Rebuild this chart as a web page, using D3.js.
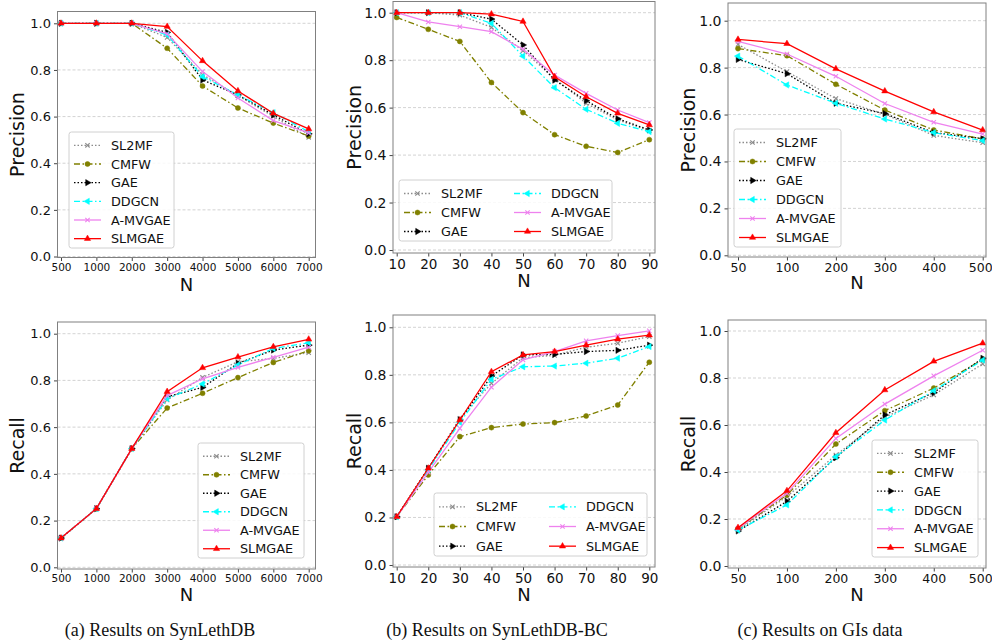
<!DOCTYPE html>
<html>
<head>
<meta charset="utf-8">
<script src="https://cdn.jsdelivr.net/npm/d3@7"></script>
<style>
  body { margin: 0; background: #fff; }
</style>
</head>
<body>
<div id="chart"></div>
<script>
// methods, in drawing / legend order
const methods = ['SL2MF', 'CMFW', 'GAE', 'DDGCN', 'A-MVGAE', 'SLMGAE'];

// x categories (top-N)
const nSynLethDB = [500, 1000, 2000, 3000, 4000, 5000, 6000, 7000];
const nSynLethDBBC = [10, 20, 30, 40, 50, 60, 70, 80, 90];
const nGIs = [50, 100, 200, 300, 400, 500];

// precision, one row per method (same order as methods)
const precSynLethDB = [
  [1, 1, 1, 0.939, 0.780, 0.690, 0.600, 0.511],
  [1, 1, 1, 0.893, 0.731, 0.637, 0.572, 0.517],
  [1, 1, 1, 0.961, 0.757, 0.693, 0.607, 0.526],
  [1, 1, 1, 0.950, 0.771, 0.693, 0.617, 0.535],
  [1, 1, 1, 0.955, 0.793, 0.680, 0.583, 0.530],
  [1, 1, 1, 0.986, 0.839, 0.710, 0.614, 0.547],
];
const precSynLethDBBC = [
  [1, 1, 0.990, 0.938, 0.840, 0.723, 0.618, 0.548, 0.503],
  [0.980, 0.930, 0.879, 0.706, 0.579, 0.486, 0.437, 0.411, 0.465],
  [1, 1, 1, 0.973, 0.864, 0.716, 0.629, 0.553, 0.506],
  [1, 1, 1, 0.955, 0.817, 0.684, 0.593, 0.534, 0.499],
  [1, 0.961, 0.941, 0.920, 0.846, 0.737, 0.660, 0.590, 0.537],
  [1, 1, 1, 0.994, 0.963, 0.730, 0.646, 0.576, 0.527],
];
const precGIs = [
  [0.899, 0.783, 0.668, 0.601, 0.511, 0.480],
  [0.881, 0.851, 0.729, 0.619, 0.534, 0.496],
  [0.835, 0.774, 0.648, 0.604, 0.523, 0.497],
  [0.849, 0.726, 0.648, 0.581, 0.523, 0.489],
  [0.912, 0.858, 0.763, 0.647, 0.567, 0.517],
  [0.920, 0.902, 0.795, 0.700, 0.611, 0.534],
];

// recall
const recSynLethDB = [
  [0.125, 0.251, 0.508, 0.716, 0.813, 0.880, 0.894, 0.919],
  [0.125, 0.251, 0.508, 0.682, 0.745, 0.812, 0.877, 0.927],
  [0.125, 0.251, 0.508, 0.730, 0.770, 0.873, 0.930, 0.951],
  [0.125, 0.251, 0.508, 0.722, 0.785, 0.866, 0.937, 0.961],
  [0.125, 0.251, 0.508, 0.735, 0.807, 0.856, 0.899, 0.942],
  [0.125, 0.251, 0.508, 0.752, 0.854, 0.900, 0.944, 0.976],
];
const recSynLethDBBC = [
  [0.203, 0.407, 0.617, 0.764, 0.872, 0.882, 0.916, 0.933, 0.961],
  [0.203, 0.379, 0.540, 0.578, 0.593, 0.599, 0.627, 0.673, 0.853],
  [0.203, 0.407, 0.610, 0.795, 0.884, 0.886, 0.898, 0.903, 0.925],
  [0.203, 0.400, 0.600, 0.781, 0.834, 0.837, 0.849, 0.870, 0.919],
  [0.203, 0.390, 0.575, 0.748, 0.863, 0.898, 0.943, 0.965, 0.985],
  [0.203, 0.407, 0.610, 0.813, 0.884, 0.898, 0.925, 0.950, 0.967],
];
const recGIs = [
  [0.155, 0.295, 0.472, 0.633, 0.728, 0.860],
  [0.158, 0.302, 0.519, 0.661, 0.757, 0.879],
  [0.149, 0.275, 0.461, 0.643, 0.738, 0.884],
  [0.153, 0.260, 0.465, 0.621, 0.746, 0.876],
  [0.160, 0.309, 0.543, 0.689, 0.809, 0.918],
  [0.163, 0.320, 0.567, 0.749, 0.871, 0.948],
];

const yTicks = [0, 0.2, 0.4, 0.6, 0.8, 1.0];
const captions = ['(a)  Results on SynLethDB', '(b)  Results on SynLethDB-BC', '(c)  Results on GIs data'];

// line / marker look for each method
const styles = {
  'SL2MF':   { color: '#8c8c8c', dash: '1.5,2', marker: 'x' },
  'CMFW':    { color: '#808000', dash: '6,2.5,1.5,2.5', marker: 'o' },
  'GAE':     { color: '#000000', dash: '1.5,2', marker: '>' },
  'DDGCN':   { color: '#00ffff', dash: '6,2.5,1.5,2.5', marker: '<' },
  'A-MVGAE': { color: '#ee82ee', dash: null, marker: 'x' },
  'SLMGAE':  { color: '#ff0000', dash: null, marker: '^' },
};

const panels = [
  { n: nSynLethDB, vals: precSynLethDB, ylabel: 'Precision',
    box: [57.5, 11.5, 315.5, 257.5], xr: [61, 308.7], yr: [256.5, 23.3],
    xFont: 10.5, yFont: 13, nY: 291, labX: 18, legend: { x: 69, y: 132, w: 105, h: 116, cols: 1 } },
  { n: nSynLethDBBC, vals: precSynLethDBBC, ylabel: 'Precision',
    box: [393, 1.5, 655, 253], xr: [396.7, 649.3], yr: [250, 12.7],
    xFont: 13.5, yFont: 14, nY: 287, labX: 355, legend: { x: 399, y: 180, w: 213, h: 61, cols: 2 } },
  { n: nGIs, vals: precGIs, ylabel: 'Precision',
    box: [728, 3, 986, 257], xr: [738, 982.7], yr: [255.3, 20.7],
    xFont: 12.5, yFont: 14, nY: 289, labX: 689, legend: { x: 734, y: 129, w: 107, h: 118, cols: 1 } },
  { n: nSynLethDB, vals: recSynLethDB, ylabel: 'Recall',
    box: [57.5, 322, 315.5, 569], xr: [61, 308.7], yr: [567.3, 333.7],
    xFont: 10.5, yFont: 13, nY: 601, labX: 18, legend: { x: 198, y: 443, w: 106, h: 115, cols: 1 } },
  { n: nSynLethDBBC, vals: recSynLethDBBC, ylabel: 'Recall',
    box: [393, 315, 655, 567], xr: [396.7, 649.3], yr: [565, 327.3],
    xFont: 13.5, yFont: 14, nY: 601, labX: 355, legend: { x: 434, y: 493, w: 213, h: 63, cols: 2 } },
  { n: nGIs, vals: recGIs, ylabel: 'Recall',
    box: [728, 320, 986, 568], xr: [738, 982.7], yr: [566, 331],
    xFont: 12.5, yFont: 14, nY: 601, labX: 689, legend: { x: 872, y: 440, w: 106, h: 117, cols: 1 } },
];

const width = 992;
const height = 644;
const sans = '"DejaVu Sans", sans-serif';

const svg = d3.select('#chart').append('svg')
  .attr('width', width)
  .attr('height', height);

const markerPath = (m) => {
  if (m === 'o') return d3.symbol(d3.symbolCircle, 20)();
  if (m === 'x') return d3.symbol(d3.symbolTimes, 14)();
  return d3.symbol(d3.symbolTriangle, 17)();
};
const markerRot = m => ({ '>': 90, '<': -90 }[m] || 0);

const drawMarker = (g, m, color, x, y) => {
  const p = g.append('path')
    .attr('d', markerPath(m))
    .attr('transform', `translate(${x},${y}) rotate(${markerRot(m)})`);
  if (m === 'x') p.attr('fill', 'none').attr('stroke', color).attr('stroke-width', 1.1);
  else p.attr('fill', color).attr('stroke', color).attr('stroke-width', 0.5);
};

const drawLegend = (g, lg) => {
  const box = g.append('g');
  box.append('rect')
    .attr('x', lg.x).attr('y', lg.y)
    .attr('width', lg.w).attr('height', lg.h)
    .attr('rx', 2.5)
    .attr('fill', 'rgba(255,255,255,0.85)')
    .attr('stroke', '#d0d0d0');
  const perCol = Math.ceil(methods.length / lg.cols);
  const rowH = (lg.h - 4) / perCol;
  methods.forEach((name, i) => {
    const col = Math.floor(i / perCol);
    const row = i % perCol;
    const st = styles[name];
    const x0 = lg.x + 5 + col * 110;
    const y = lg.y + 4 + rowH * (row + 0.5);
    box.append('line')
      .attr('x1', x0).attr('x2', x0 + 27)
      .attr('y1', y).attr('y2', y)
      .attr('stroke', st.color)
      .attr('stroke-width', 1.3)
      .attr('stroke-dasharray', st.dash);
    drawMarker(box, st.marker, st.color, x0 + 13.5, y);
    box.append('text')
      .attr('x', x0 + 37).attr('y', y)
      .attr('dy', '0.36em')
      .attr('font-size', 12.8)
      .style('font-family', sans)
      .attr('fill', '#111')
      .text(name);
  });
};

panels.forEach((p) => {
  const [l, t, r, b] = p.box;
  const g = svg.append('g');

  const x = d3.scalePoint().domain(p.n).range(p.xr);
  const y = d3.scaleLinear().domain([0, 1]).range(p.yr);

  // grid
  g.append('g').selectAll('line')
    .data(yTicks)
    .join('line')
    .attr('x1', l).attr('x2', r)
    .attr('y1', d => y(d)).attr('y2', d => y(d))
    .attr('stroke', '#c8c8c8')
    .attr('stroke-width', 0.8)
    .attr('stroke-dasharray', '3,2');

  // axes
  const xAxis = g.append('g')
    .attr('transform', `translate(0,${b})`)
    .call(d3.axisBottom(x).tickSize(3.5).tickPadding(2.5));
  xAxis.select('.domain').remove();
  xAxis.selectAll('text').attr('font-size', p.xFont).attr('fill', '#111')
    .style('font-family', sans);
  // last label sits right at the figure edge
  xAxis.selectAll('.tick:last-of-type text').attr('dx', p.n === nGIs ? -2.5 : 0);
  xAxis.selectAll('line').attr('stroke', '#444');

  const yAxis = g.append('g')
    .attr('transform', `translate(${l},0)`)
    .call(d3.axisLeft(y).tickValues(yTicks).tickFormat(d3.format('.1f')).tickSize(3.5).tickPadding(3));
  yAxis.select('.domain').remove();
  yAxis.selectAll('text').attr('font-size', p.yFont).attr('fill', '#111')
    .style('font-family', sans);
  yAxis.selectAll('line').attr('stroke', '#444');

  // series
  const line = d3.line()
    .x((d, i) => x(p.n[i]))
    .y(d => y(d));

  methods.forEach((name, k) => {
    const st = styles[name];
    const vals = p.vals[k];
    g.append('path')
      .datum(vals)
      .attr('d', line)
      .attr('fill', 'none')
      .attr('stroke', st.color)
      .attr('stroke-width', 1.3)
      .attr('stroke-dasharray', st.dash);
    vals.forEach((v, i) => drawMarker(g, st.marker, st.color, x(p.n[i]), y(v)));
  });

  // frame
  g.append('rect')
    .attr('x', l).attr('y', t)
    .attr('width', r - l).attr('height', b - t)
    .attr('fill', 'none')
    .attr('stroke', '#808080')
    .attr('stroke-width', 1);

  drawLegend(g, p.legend);

  // labels
  g.append('text')
    .attr('x', (l + r) / 2).attr('y', p.nY)
    .attr('text-anchor', 'middle')
    .attr('font-size', 18)
    .style('font-family', sans)
    .attr('fill', '#111')
    .text('N');

  g.append('text')
    .attr('transform', `translate(${p.labX + 6},${(t + b) / 2}) rotate(-90)`)
    .attr('text-anchor', 'middle')
    .attr('font-size', 19)
    .style('font-family', sans)
    .attr('fill', '#111')
    .text(p.ylabel);
});

// sub-figure captions
const capX = [160, 497, 820];
svg.selectAll('.caption')
  .data(captions)
  .join('text')
  .attr('class', 'caption')
  .attr('x', (d, i) => capX[i])
  .attr('y', 636)
  .attr('text-anchor', 'middle')
  .style('font-family', '"Liberation Serif", "DejaVu Serif", serif')
  .attr('font-size', 18)
  .attr('fill', '#111')
  .text(d => d);
</script>
</body>
</html>
